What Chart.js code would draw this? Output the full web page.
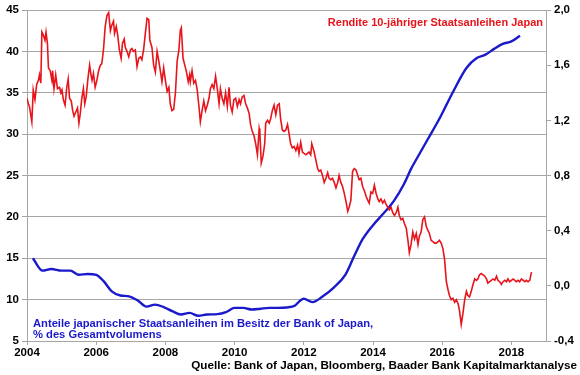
<!DOCTYPE html>
<html>
<head>
<meta charset="utf-8">
<script src="https://cdn.jsdelivr.net/npm/chart.js@4.4.1/dist/chart.umd.min.js"></script>
<style>
html,body{margin:0;padding:0;background:#fff;}
#wrap{position:relative;width:580px;height:375px;}
</style>
</head>
<body>
<div id="wrap"><canvas id="c" width="580" height="375"></canvas></div>
<script>
// ---- Data ----
// Rendite 10-jähriger Staatsanleihen Japan (right axis, %)
const yieldYears = [
2004.00,2004.04,2004.07,2004.14,2004.18,2004.23,2004.28,2004.33,2004.36,2004.40,2004.43,2004.47,2004.52,2004.55,2004.59,2004.62,2004.67,2004.72,2004.74,2004.78,2004.83,2004.88,2004.94,2004.98,
2005.01,2005.05,2005.10,2005.15,2005.19,2005.23,2005.28,2005.32,2005.36,2005.41,2005.46,2005.50,2005.54,2005.58,2005.63,2005.67,2005.71,2005.76,2005.81,2005.85,2005.88,2005.92,2005.97,
2006.02,2006.07,2006.12,2006.16,2006.21,2006.26,2006.31,2006.36,2006.41,2006.45,2006.50,2006.53,2006.58,2006.62,2006.67,2006.72,2006.76,2006.81,2006.84,2006.89,2006.94,2006.99,
2007.03,2007.08,2007.13,2007.18,2007.23,2007.28,2007.32,2007.37,2007.42,2007.47,2007.52,2007.55,2007.61,2007.66,2007.71,2007.76,2007.81,2007.86,2007.90,2007.95,
2008.00,2008.05,2008.10,2008.14,2008.19,2008.24,2008.29,2008.34,2008.39,2008.43,2008.46,2008.51,2008.56,2008.61,2008.66,2008.70,2008.72,2008.77,2008.82,2008.87,2008.92,2008.97,
2009.01,2009.06,2009.11,2009.16,2009.21,2009.26,2009.30,2009.35,2009.40,2009.45,2009.50,2009.55,2009.59,2009.64,2009.69,2009.74,2009.79,2009.84,2009.88,2009.93,2009.98,
2010.03,2010.08,2010.13,2010.17,2010.22,2010.27,2010.32,2010.37,2010.42,2010.46,2010.51,2010.56,2010.61,2010.66,2010.71,2010.73,2010.77,2010.82,2010.87,2010.90,2010.95,
2011.00,2011.04,2011.09,2011.14,2011.19,2011.24,2011.29,2011.33,2011.38,2011.43,2011.48,2011.53,2011.57,2011.62,2011.67,2011.72,2011.77,2011.82,2011.86,2011.91,2011.96,
2012.06,2012.15,2012.20,2012.23,2012.30,2012.35,2012.40,2012.44,2012.49,2012.54,2012.59,2012.64,2012.69,2012.73,2012.78,2012.83,2012.88,2012.93,2012.98,
2013.02,2013.07,2013.12,2013.17,2013.22,2013.27,2013.31,2013.36,2013.41,2013.46,2013.51,2013.56,2013.60,2013.65,2013.70,2013.75,2013.80,2013.85,2013.89,2013.94,2013.99,
2014.04,2014.09,2014.14,2014.18,2014.23,2014.28,2014.33,2014.38,2014.43,2014.47,2014.52,2014.57,2014.62,2014.67,2014.72,2014.76,2014.81,2014.86,2014.91,2014.96,
2015.01,2015.05,2015.10,2015.15,2015.20,2015.25,2015.30,2015.34,2015.39,2015.44,2015.49,2015.54,2015.59,2015.63,2015.68,2015.73,2015.78,2015.83,2015.88,2015.92,2015.97,
2016.02,2016.07,2016.12,2016.17,2016.21,2016.26,2016.31,2016.36,2016.41,2016.46,2016.50,2016.55,2016.60,2016.65,2016.70,2016.74,2016.79,2016.84,2016.89,2016.94,2016.99,
2017.03,2017.08,2017.13,2017.18,2017.23,2017.28,2017.32,2017.37,2017.42,2017.47,2017.52,2017.57,2017.61,2017.66,2017.71,2017.76,2017.81,2017.86,2017.90,2017.95,
2018.00,2018.05,2018.10,2018.14,2018.19,2018.24,2018.29,2018.34,2018.39,2018.43,2018.48,2018.53,2018.58
];
const yieldValues = [
1.36,1.32,1.30,1.19,1.42,1.35,1.46,1.49,1.53,1.47,1.84,1.82,1.78,1.84,1.76,1.58,1.56,1.49,1.56,1.43,1.53,1.43,1.44,1.40,
1.42,1.35,1.31,1.44,1.50,1.36,1.34,1.27,1.23,1.26,1.29,1.18,1.25,1.35,1.43,1.32,1.37,1.50,1.60,1.53,1.49,1.54,1.44,
1.49,1.56,1.60,1.61,1.71,1.88,1.96,1.98,1.85,1.89,1.92,1.83,1.88,1.82,1.71,1.65,1.76,1.79,1.73,1.70,1.66,1.71,
1.72,1.70,1.71,1.59,1.65,1.66,1.64,1.71,1.83,1.94,1.93,1.78,1.73,1.60,1.55,1.70,1.63,1.55,1.48,1.58,
1.49,1.41,1.44,1.32,1.27,1.28,1.40,1.63,1.71,1.85,1.87,1.65,1.60,1.55,1.48,1.53,1.48,1.56,1.47,1.49,1.42,1.30,
1.19,1.27,1.34,1.27,1.31,1.36,1.43,1.46,1.43,1.52,1.43,1.32,1.43,1.36,1.32,1.40,1.30,1.44,1.31,1.26,1.35,
1.36,1.30,1.35,1.32,1.37,1.38,1.32,1.29,1.25,1.17,1.12,1.09,1.03,0.95,1.14,1.11,0.89,0.94,1.03,1.18,1.20,
1.18,1.21,1.27,1.31,1.24,1.31,1.32,1.21,1.13,1.12,1.13,1.17,1.11,1.03,1.00,1.01,0.98,1.02,0.96,1.04,0.97,
0.95,0.97,0.95,1.03,0.97,0.91,0.85,0.83,0.84,0.80,0.75,0.78,0.82,0.78,0.77,0.78,0.75,0.71,0.75,
0.80,0.75,0.72,0.67,0.61,0.54,0.57,0.62,0.83,0.85,0.84,0.80,0.77,0.78,0.72,0.69,0.65,0.62,0.60,0.68,0.67,
0.73,0.67,0.63,0.61,0.63,0.60,0.62,0.59,0.57,0.55,0.57,0.53,0.51,0.53,0.57,0.51,0.48,0.49,0.45,0.42,
0.33,0.24,0.30,0.39,0.34,0.38,0.30,0.36,0.39,0.48,0.50,0.43,0.40,0.38,0.33,0.32,0.31,0.31,0.32,0.33,0.31,
0.27,0.19,0.03,-0.03,-0.07,-0.10,-0.09,-0.12,-0.10,-0.13,-0.18,-0.28,-0.20,-0.10,-0.04,-0.07,-0.08,-0.04,0.01,0.05,0.04,
0.05,0.08,0.09,0.08,0.07,0.05,0.02,0.03,0.04,0.05,0.04,0.07,0.04,0.03,0.01,0.03,0.04,0.03,0.05,0.03,
0.04,0.05,0.04,0.03,0.04,0.03,0.05,0.04,0.03,0.04,0.03,0.04,0.10
];
// Anteile japanischer Staatsanleihen im Besitz der Bank of Japan (left axis, %)
const shareYears = [
2004.17,2004.45,2004.70,2005.00,2005.25,2005.50,2005.75,2006.00,2006.22,2006.45,2006.70,2006.95,
2007.20,2007.45,2007.70,2007.95,2008.20,2008.45,2008.70,2008.95,2009.20,2009.50,2009.75,
2010.00,2010.25,2010.50,2010.75,2011.00,2011.25,2011.50,2011.75,2011.90,2012.00,2012.25,2012.55,2012.85,
2013.20,2013.45,2013.70,2014.00,2014.30,2014.60,2014.90,2015.10,2015.30,2015.60,2015.95,
2016.30,2016.70,2017.00,2017.25,2017.50,2017.75,2018.00,2018.25
];
const shareValues = [
15.0,13.5,13.7,13.5,13.5,13.0,13.1,13.0,12.2,11.0,10.5,10.4,
9.9,9.15,9.4,9.1,8.6,8.2,8.4,8.05,8.2,8.25,8.5,
9.0,9.0,8.8,8.9,9.0,9.0,9.05,9.3,9.9,10.1,9.7,10.4,11.4,
13.0,15.2,17.3,19.0,20.4,21.9,24.0,25.8,27.3,29.5,32.1,
35.0,38.0,39.2,39.6,40.3,40.9,41.2,41.9
];
// Axis ticks
const yearTickValues = [2004, 2006, 2008, 2010, 2012, 2014, 2016, 2018];
const yearRange = {min: 2004, max: 2019};
const leftTicks = {min: 5, max: 45, step: 5};
const rightTicks = {min: -0.4, max: 2.0, step: 0.4};

const yieldLabel = 'Rendite 10-jähriger Staatsanleihen Japan';
const shareLabel1 = 'Anteile japanischer Staatsanleihen im Besitz der Bank of Japan,';
const shareLabel2 = '% des Gesamtvolumens';
const sourceLabel = 'Quelle: Bank of Japan, Bloomberg, Baader Bank Kapitalmarktanalyse';

// ---- Styles ----
const RED = '#e8141b';
const BLUE = '#1a1acc';
const GRID = '#a6a6a6';
const FONT = '"Liberation Sans", Arial, sans-serif';

const textPlugin = {
  id: 'texts',
  afterDraw(chart) {
    const ctx = chart.ctx;
    const a = chart.chartArea;
    ctx.save();
    ctx.textBaseline = 'alphabetic';
    ctx.font = 'bold 11px ' + FONT;
    ctx.fillStyle = RED;
    ctx.textAlign = 'right';
    ctx.fillText(yieldLabel, a.right - 3, a.top + 16);
    ctx.fillStyle = BLUE;
    ctx.textAlign = 'left';
    ctx.font = 'bold 11.2px ' + FONT;
    ctx.fillText(shareLabel1, a.left + 6, a.bottom - 14);
    ctx.fillText(shareLabel2, a.left + 6, a.bottom - 3);
    ctx.fillStyle = '#000';
    ctx.textAlign = 'right';
    ctx.font = 'bold 11.7px ' + FONT;
    ctx.fillText(sourceLabel, 577, 369);
    ctx.restore();
  }
};

const tickFont = {family: FONT, size: 11.5, weight: 'bold'};

new Chart(document.getElementById('c'), {
  type: 'line',
  data: {
    datasets: [
      {
        label: yieldLabel,
        data: yieldYears.map((x, i) => ({x: x, y: yieldValues[i]})),
        yAxisID: 'yR',
        borderColor: RED,
        borderWidth: 1.6,
        pointRadius: 0,
        tension: 0,
        fill: false
      },
      {
        label: shareLabel1,
        data: shareYears.map((x, i) => ({x: x, y: shareValues[i]})),
        yAxisID: 'yL',
        borderColor: BLUE,
        borderWidth: 2.4,
        pointRadius: 0,
        tension: 0.35,
        cubicInterpolationMode: 'monotone',
        fill: false
      }
    ]
  },
  options: {
    responsive: false,
    animation: false,
    devicePixelRatio: 1,
    layout: {padding: {top: 10, bottom: 14, left: 0, right: 0}},
    plugins: {legend: {display: false}, tooltip: {enabled: false}},
    scales: {
      x: {
        type: 'linear',
        min: yearRange.min,
        max: yearRange.max,
        afterBuildTicks: s => { s.ticks = yearTickValues.map(v => ({value: v})); },
        afterFit: s => { s.height = 20; },
        ticks: {color: '#000', font: tickFont, padding: 1, maxRotation: 0,
                autoSkip: false, callback: v => String(v)},
        grid: {drawOnChartArea: false, color: GRID, tickLength: 4},
        border: {color: GRID, width: 1}
      },
      yL: {
        position: 'left',
        min: leftTicks.min,
        max: leftTicks.max,
        afterFit: s => { s.width = 27; },
        ticks: {stepSize: leftTicks.step, color: '#000', font: tickFont, padding: 3},
        grid: {color: GRID, tickLength: 5},
        border: {color: GRID, width: 1}
      },
      yR: {
        position: 'right',
        min: rightTicks.min,
        max: rightTicks.max,
        afterFit: s => { s.width = 34; },
        ticks: {stepSize: rightTicks.step, color: '#000', font: tickFont, padding: 3,
                callback: v => (Math.abs(v) < 1e-9 ? 0 : v).toFixed(1).replace('.', ',')},
        grid: {drawOnChartArea: false, color: GRID, tickLength: 5},
        border: {color: GRID, width: 1}
      }
    }
  },
  plugins: [textPlugin]
});
</script>
</body>
</html>
